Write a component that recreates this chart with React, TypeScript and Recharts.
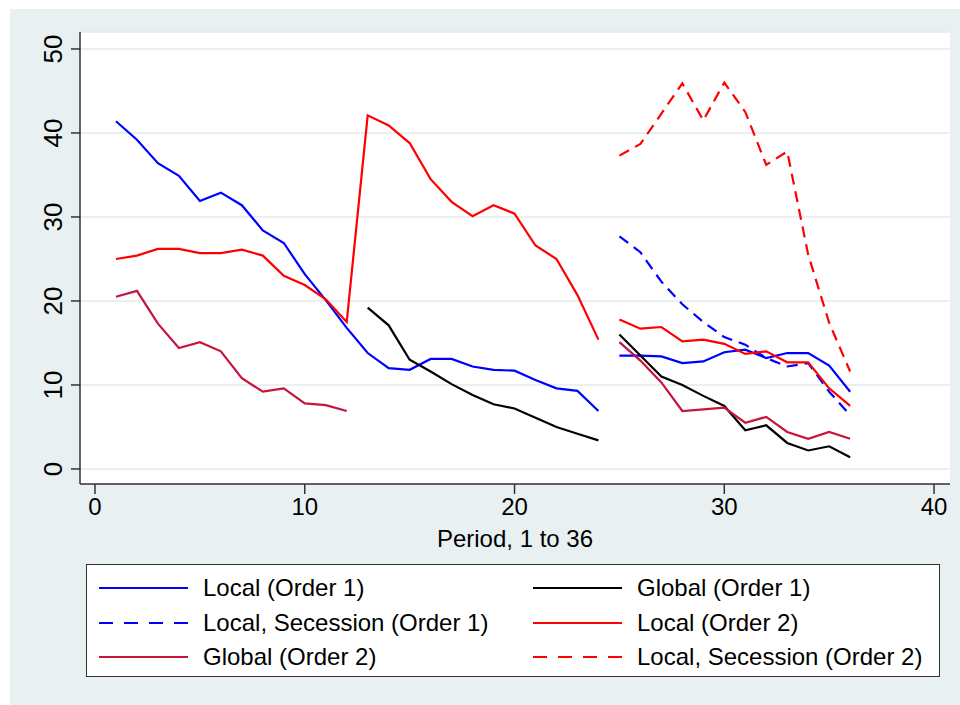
import React from "react";
import { LineChart, Line, XAxis, YAxis, CartesianGrid } from "recharts";

const periods = [1, 2, 3, 4, 5, 6, 7, 8, 9, 10, 11, 12, 13, 14, 15, 16, 17, 18, 19, 20, 21, 22, 23, 24, 25, 26, 27, 28, 29, 30, 31, 32, 33, 34, 35, 36];

// blocks of periods that are drawn as one connected line
const sessions = [
  [1, 24],
  [25, 36],
];

const localOrder1 = [41.4, 39.2, 36.4, 34.9, 31.9, 32.9, 31.4, 28.4, 26.9, 23.2, 20.1, 16.8, 13.8, 12.0, 11.8, 13.1, 13.1, 12.2, 11.8, 11.7, 10.6, 9.6, 9.3, 6.9, 13.5, 13.5, 13.4, 12.6, 12.8, 13.9, 14.2, 13.2, 13.8, 13.8, 12.3, 9.2];
const globalOrder1 = [null, null, null, null, null, null, null, null, null, null, null, null, 19.2, 17.1, 13.0, 11.6, 10.1, 8.8, 7.7, 7.2, 6.1, 5.0, 4.2, 3.4, 16.0, 13.5, 11.0, 10.0, 8.7, 7.5, 4.6, 5.2, 3.1, 2.2, 2.7, 1.4];
const secessionOrder1 = [null, null, null, null, null, null, null, null, null, null, null, null, null, null, null, null, null, null, null, null, null, null, null, null, 27.7, 25.8, 22.3, 19.6, 17.5, 15.7, 14.8, 13.2, 12.2, 12.6, 9.2, 6.4];
const localOrder2 = [25.0, 25.4, 26.2, 26.2, 25.7, 25.7, 26.1, 25.4, 23.0, 21.9, 20.2, 17.5, 42.1, 40.9, 38.8, 34.5, 31.8, 30.1, 31.4, 30.4, 26.6, 25.0, 20.7, 15.4, 17.8, 16.7, 16.9, 15.2, 15.4, 14.9, 13.7, 14.0, 12.7, 12.7, 9.6, 7.5];
const globalOrder2 = [20.5, 21.2, 17.3, 14.4, 15.1, 14.0, 10.8, 9.2, 9.6, 7.8, 7.6, 6.9, null, null, null, null, null, null, null, null, null, null, null, null, 15.1, 12.9, 10.3, 6.9, 7.1, 7.3, 5.5, 6.2, 4.4, 3.6, 4.4, 3.6];
const secessionOrder2 = [null, null, null, null, null, null, null, null, null, null, null, null, null, null, null, null, null, null, null, null, null, null, null, null, 37.3, 38.7, 42.3, 45.9, 41.5, 46.0, 42.5, 36.2, 37.8, 25.5, 17.4, 11.6];

const xTicks = [0, 10, 20, 30, 40];
const yTicks = [0, 10, 20, 30, 40, 50];

const FONT = '"Liberation Sans", Arial, Helvetica, sans-serif';
const DASH = "11 7";

const series = [
  { key: "local1", name: "Local (Order 1)", values: localOrder1, color: "#0000ff", dash: undefined },
  { key: "global1", name: "Global (Order 1)", values: globalOrder1, color: "#000000", dash: undefined },
  { key: "sec1", name: "Local, Secession (Order 1)", values: secessionOrder1, color: "#0000ff", dash: DASH },
  { key: "local2", name: "Local (Order 2)", values: localOrder2, color: "#ff0000", dash: undefined },
  { key: "global2", name: "Global (Order 2)", values: globalOrder2, color: "#c8143c", dash: undefined },
  { key: "sec2", name: "Local, Secession (Order 2)", values: secessionOrder2, color: "#ff0000", dash: DASH },
];

const rows = periods.map((p, i) => {
  const row: Record<string, number | null> = { period: p };
  series.forEach((s) => {
    sessions.forEach(([a, b], j) => {
      row[`${s.key}_${j}`] = p >= a && p <= b ? s.values[i] : null;
    });
  });
  return row;
});

function YTick(props: any) {
  const { y, payload } = props;
  return (
    <text
      x={62}
      y={y}
      transform={`rotate(-90, 62, ${y})`}
      textAnchor="middle"
      fontSize={26}
      fontFamily={FONT}
      fill="#000"
    >
      {payload.value}
    </text>
  );
}

function ChartLegend() {
  const cols = [12, 446];
  const rowsY = [23, 58, 92];
  return (
    <div
      style={{
        position: "absolute",
        left: 86,
        top: 564,
        width: 854,
        height: 113,
        boxSizing: "border-box",
        border: "1px solid #333",
        background: "#fff",
        fontFamily: FONT,
        fontSize: 24,
      }}
    >
      {series.map((s, i) => {
        const left = cols[i % 2];
        const top = rowsY[Math.floor(i / 2)];
        return (
          <div key={s.key} style={{ position: "absolute", left, top: top - 15, height: 30, display: "flex", alignItems: "center", whiteSpace: "nowrap" }}>
            <svg width={89} height={30} style={{ display: "block" }}>
              <line x1={0} y1={15} x2={89} y2={15} stroke={s.color} strokeWidth={2} strokeDasharray={s.dash ? "14 11" : undefined} />
            </svg>
            <span style={{ marginLeft: 15, color: "#000", lineHeight: "30px" }}>{s.name}</span>
          </div>
        );
      })}
    </div>
  );
}

export default function App() {
  return (
    <div style={{ position: "absolute", left: 0, top: 0, width: 960, height: 705, background: "#fff", overflow: "hidden" }}>
      <div style={{ position: "absolute", left: 10, top: 9, width: 950, height: 696, background: "#e9f0f2" }} />
      <div style={{ position: "absolute", left: 0, top: 0 }}>
        <LineChart width={960} height={705} data={rows} margin={{ top: 32, right: 10, left: 10, bottom: 151 }}>
          <CartesianGrid vertical={false} stroke="#e3ebee" strokeWidth={1.5} fill="#fff" />
          <XAxis
            dataKey="period"
            type="number"
            domain={[-0.715, 40.76]}
            ticks={xTicks}
            allowDataOverflow
            height={70}
            tickSize={10}
            tickMargin={4}
            stroke="#333"
            strokeWidth={1.5}
            tick={{ fill: "#000", fontSize: 24, fontFamily: FONT }}
            label={{ value: "Period, 1 to 36", position: "insideBottom", offset: 7, fill: "#000", fontSize: 24, fontFamily: FONT }}
          />
          <YAxis
            type="number"
            domain={[-1.79, 52.02]}
            ticks={yTicks}
            allowDataOverflow
            width={70}
            tickSize={9}
            stroke="#333"
            strokeWidth={1.5}
            tick={<YTick />}
          />
          {series.flatMap((s) =>
            sessions.map((_, j) => (
              <Line
                key={`${s.key}_${j}`}
                dataKey={`${s.key}_${j}`}
                name={s.name}
                type="linear"
                stroke={s.color}
                strokeWidth={2.2}
                strokeDasharray={s.dash}
                dot={false}
                activeDot={false}
                connectNulls={false}
                legendType="none"
                isAnimationActive={false}
              />
            ))
          )}
        </LineChart>
      </div>
      <ChartLegend />
    </div>
  );
}
